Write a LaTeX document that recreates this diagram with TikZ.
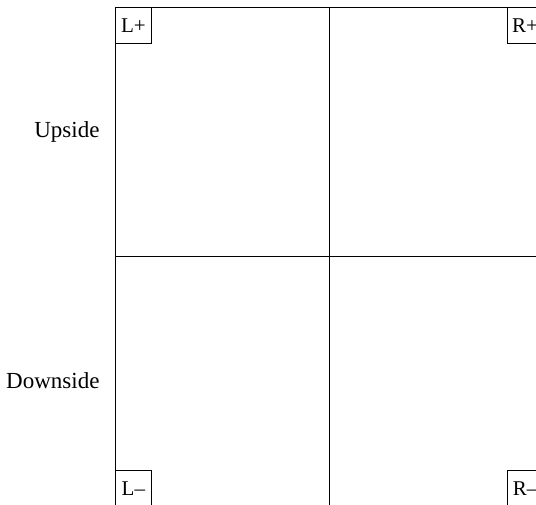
\documentclass[tikz,border=0pt]{standalone}
\usepackage{fontspec}
\setmainfont{Liberation Serif}
\begin{document}
\begin{tikzpicture}[x=1pt,y=1pt,
  grid/.style={line width=1pt},
  corner/.style={draw,line width=0.8pt,minimum width=36pt,minimum height=36pt,inner sep=0pt,font=\fontsize{21}{24}\selectfont},
  side/.style={anchor=east,font=\fontsize{23}{27}\selectfont}]
\useasboundingbox (0,0) rectangle (536,504);
\clip (0,0) rectangle (536,504);
\coordinate (tl) at (115,496.5);
\coordinate (tr) at (543.5,496.5);
\coordinate (bl) at (115,-3);
\coordinate (br) at (543.5,-3);
\coordinate (tm) at (329,496.5);
\coordinate (bm) at (329,-3);
\coordinate (ml) at (115,247);
\coordinate (mr) at (543.5,247);
\draw[grid] (bl) -- (tl) -- (tr);
\draw[grid] (tm) -- (bm);
\draw[grid] (ml) -- (mr);
\node[corner,anchor=north west] (lp) at (tl) {L+};
\node[corner,anchor=north east] (rp) at (tr) {R+};
\node[corner,anchor=south west] (lm) at (bl) {L--};
\node[corner,anchor=south east] (rm) at (br) {R--};
\node[side] (up) at (103,372) {Upside};
\node[side] (down) at (103,123) {Downside};
\end{tikzpicture}
\end{document}
